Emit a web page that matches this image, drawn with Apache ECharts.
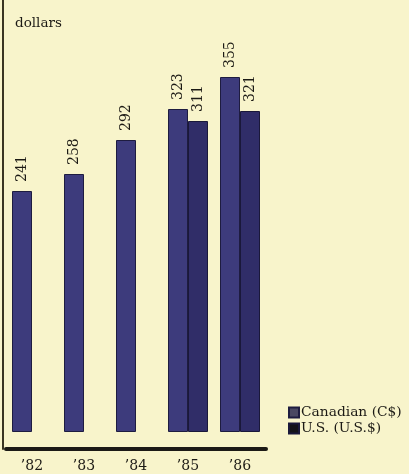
<!DOCTYPE html>
<html>
<head>
<meta charset="utf-8">
<script src="https://cdn.jsdelivr.net/npm/echarts@6/dist/echarts.min.js"></script>
<style>
  html, body { margin: 0; padding: 0; background: #f8f4cb; }
  #chart { width: 409px; height: 474px; }
</style>
</head>
<body>
<div id="chart"></div>
<script>
// Years shown along the bottom
const years = ['\u201982', '\u201983', '\u201984', '\u201985', '\u201986'];
// Average value in Canadian dollars
const canadian = [241, 258, 292, 323, 355];
// Average value in U.S. dollars (only reported for the last two years)
const us = [null, null, null, 311, 321];
const seriesNames = ['Canadian (C$)', 'U.S. (U.S.$)'];
const unitTitle = 'dollars';

const serif = '"DejaVu Serif", "Liberation Serif", serif';
const ink = '#1c1a15';

const valueLabel = {
  show: true,
  position: 'top',
  rotate: 90,
  distance: 9,
  align: 'left',
  verticalAlign: 'middle',
  fontFamily: serif,
  fontSize: 14,
  color: ink
};

const chart = echarts.init(document.getElementById('chart'), null, { renderer: 'canvas' });
chart.setOption({
  backgroundColor: '#f8f4cb',
  animation: false,
  title: {
    text: unitTitle,
    left: 10,
    top: 11,
    textStyle: { fontFamily: serif, fontSize: 13.5, fontWeight: 'normal', color: ink }
  },
  legend: {
    orient: 'vertical',
    left: 283,
    top: 400,
    itemWidth: 10,
    itemHeight: 10,
    itemGap: 1,
    icon: 'rect',
    textStyle: { fontFamily: serif, fontSize: 13.8, lineHeight: 15, color: ink, padding: [0, 0, 0, -3] },
    data: [
      { name: seriesNames[0], itemStyle: { color: '#4a4862' } },
      { name: seriesNames[1], itemStyle: { color: '#141318' } }
    ]
  },
  grid: { left: 6, right: 143, top: 0, bottom: 25 },
  xAxis: {
    type: 'category',
    data: years,
    axisLine: { onZero: false, lineStyle: { color: '#1c1a16', width: 4 } },
    axisTick: { show: false },
    axisLabel: { margin: 10, fontFamily: serif, fontSize: 14, color: ink }
  },
  yAxis: {
    type: 'value',
    min: -17,
    max: 432,
    splitLine: { show: false },
    axisTick: { show: false },
    axisLabel: { show: false },
    axisLine: { show: true, onZero: false, lineStyle: { color: '#3a3522', width: 2 } },
    offset: 3
  },
  series: [
    {
      name: seriesNames[0],
      type: 'bar',
      data: canadian,
      barWidth: 20,
      barGap: '0%',
      itemStyle: { color: '#3d3b7c', borderColor: '#1e1c40', borderWidth: 1 },
      label: valueLabel
    },
    {
      name: seriesNames[1],
      type: 'bar',
      data: us,
      barWidth: 20,
      itemStyle: { color: '#302d68', borderColor: '#1a183a', borderWidth: 1 },
      label: valueLabel
    }
  ]
});
</script>
</body>
</html>
